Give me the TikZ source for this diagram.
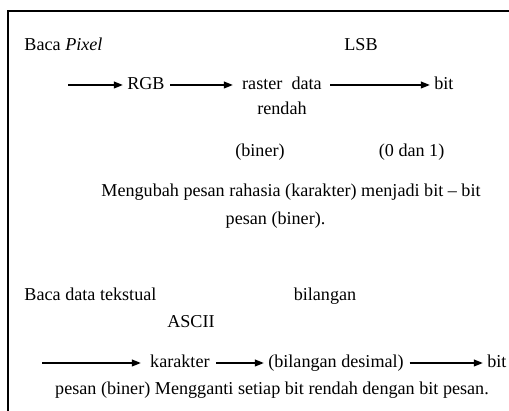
\documentclass[tikz,border=0pt]{standalone}
\usepackage{fontspec}
\setmainfont{Liberation Serif}
\usepackage{tikz}
\usetikzlibrary{arrows.meta,positioning}

\begin{document}
\begin{tikzpicture}[
    every node/.style={font=\fontsize{12.9}{15.5}\selectfont},
    lbl/.style={inner sep=1pt, text height=1.5ex, text depth=.25ex},
    flow/.style={-{Triangle[length=2.2mm,width=1.7mm]}, line width=0.8pt, shorten >=2pt},
    frame/.style={line width=0.05cm}
]

\useasboundingbox (0,0) rectangle (12.725,10.275);

% Frame (open at right and bottom)
\draw[frame] (0.2,0) |- (12.725,10.0);

% Upper part: reading the pixels
\node[lbl, anchor=west] (bacapixel) at (0.57,9.125) {Baca \textit{Pixel}};
\node[lbl] (lsb) at (9.025,9.125) {LSB};

\coordinate (startA) at (1.7,8.15);
\node[lbl, anchor=west] (rgb) at (3.14,8.15) {RGB};
\node[lbl, anchor=west, inner xsep=4.5pt] (raster) at (5.89,8.15) {raster\ \ data};
\node[lbl, anchor=west] (bitA) at (10.815,8.15) {bit};

\node[lbl] (rendah) at (7.05,7.525) {rendah};
\node[lbl] (binerA) at (6.5,6.475) {(biner)};
\node[lbl] (nolsatu) at (10.29,6.475) {(0 dan 1)};

\draw[flow] (startA) -- (rgb);
\draw[flow, shorten <=3pt] (rgb) -- (raster);
\draw[flow, shorten <=1.5pt] (raster) -- (bitA);

% Middle text
\node[lbl] (mengubah) at (7.275,5.475) {Mengubah pesan rahasia (karakter) menjadi bit -- bit};
\node[lbl, anchor=west] (pesan) at (5.6,4.775) {pesan (biner).};

% Lower part: reading the text
\node[lbl, anchor=west] (tekstual) at (0.57,2.875) {Baca data tekstual};
\node[lbl] (bilangan) at (8.125,2.875) {bilangan};
\node[lbl] (ascii) at (4.775,2.2) {ASCII};

\coordinate (startB) at (1.05,1.2);
\node[lbl, anchor=west, inner xsep=4.5pt] (karakter) at (3.59,1.2) {karakter};
\node[lbl, anchor=west] (desimal) at (6.665,1.2) {(bilangan desimal)};
\node[lbl, anchor=west] (bitB) at (12.14,1.2) {bit};

\draw[flow] (startB) -- (karakter);
\draw[flow] (karakter) -- (desimal);
\draw[flow, shorten <=3pt] (desimal) -- (bitB);

\node[lbl] (mengganti) at (6.8,0.525) {pesan (biner) Mengganti setiap bit rendah dengan bit pesan.};

\end{tikzpicture}
\end{document}
